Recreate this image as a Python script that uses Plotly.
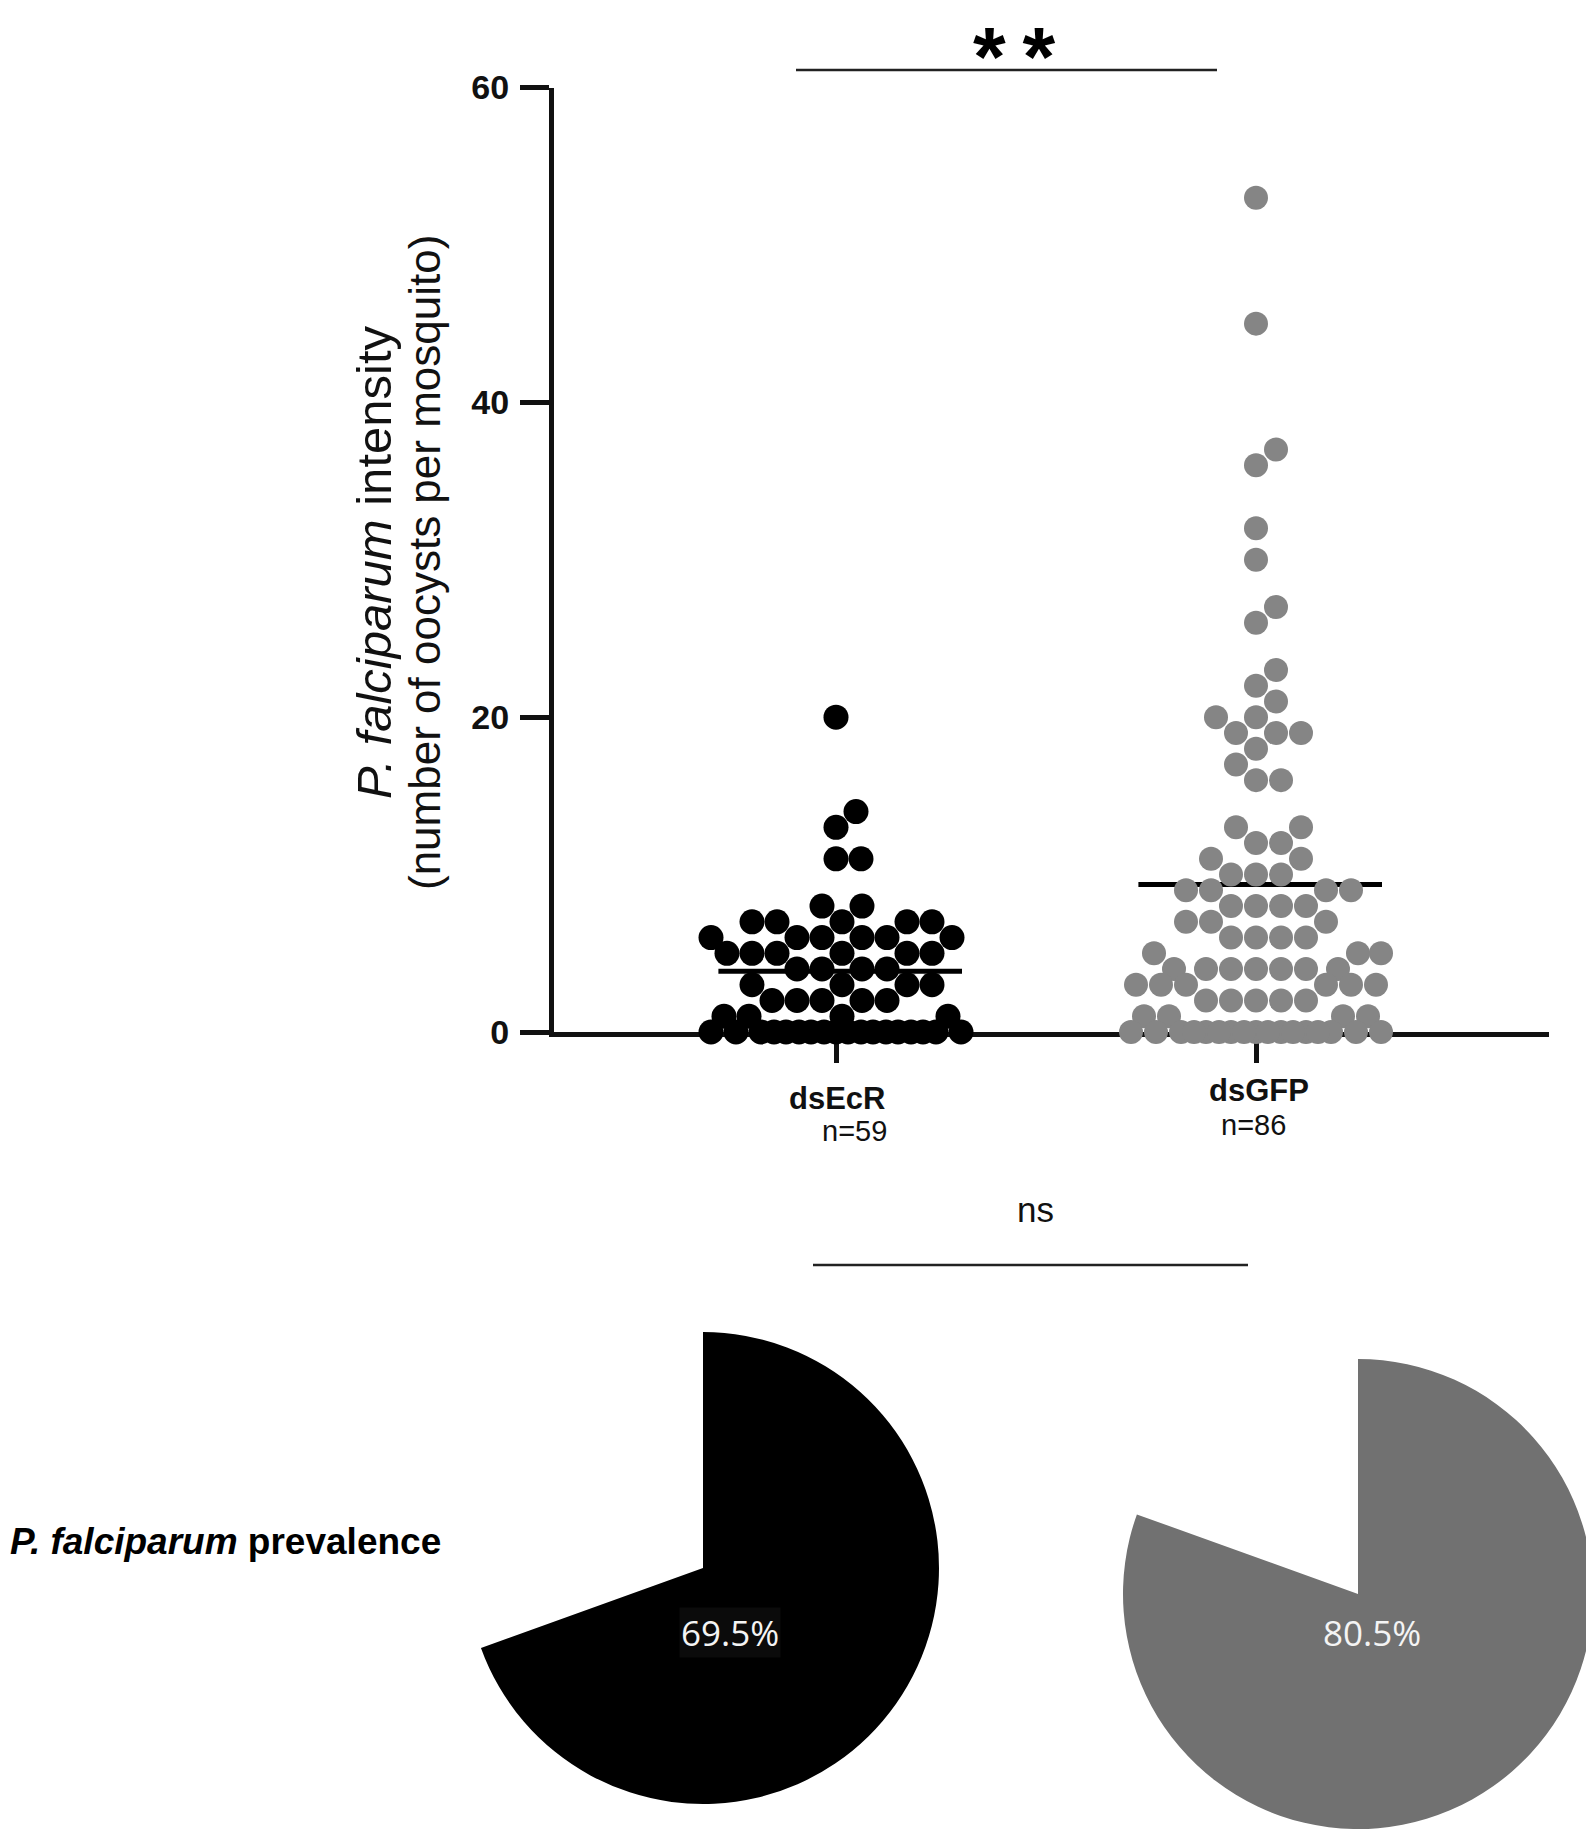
import plotly.graph_objects as go

# ---------------- data ----------------
categories = ["dsEcR", "dsGFP"]
n_labels = ["n=59", "n=86"]

dsEcR_values = [20, 14, 13, 11, 11, 8, 8,
                7, 7, 7, 7, 7,
                6, 6, 6, 6, 6, 6,
                5, 5, 5, 5, 5, 5,
                4, 4, 4, 4,
                3, 3, 3, 3,
                2, 2, 2, 2, 2,
                1, 1, 1, 1,
                0, 0, 0, 0, 0, 0, 0, 0, 0, 0, 0, 0, 0, 0, 0, 0, 0, 0]

dsGFP_values = [53, 45, 37, 36, 32, 30, 27, 26, 23, 22, 21,
                20, 20, 19, 19, 19, 18, 17, 16, 16,
                13, 13, 12, 12, 11, 11, 10, 10, 10,
                9, 9, 9, 9, 8, 8, 8, 8, 7, 7, 7,
                6, 6, 6, 6, 5, 5, 5,
                4, 4, 4, 4, 4, 4, 4,
                3, 3, 3, 3, 3, 3,
                2, 2, 2, 2, 2,
                1, 1, 1, 1,
                0, 0, 0, 0, 0, 0, 0, 0, 0, 0, 0, 0, 0, 0, 0, 0, 0]

prevalence = [69.5, 80.5]
y_ticks = [0, 20, 40, 60]
significance_top = "*\u2009*"
significance_bottom = "ns"

# ---------------- styles / layout geometry ----------------
OFF = 8                      # page body margin around the figure
W, H = 1594 - OFF, 1829 - OFF
PLOT_L, PLOT_R = 554, 1549   # page pixel positions of plot area
PLOT_T, PLOT_B = 87.5, 1032
Y_MAX = 60
CAT_PX = [836, 1256]
PX_PER_CAT = CAT_PX[1] - CAT_PX[0]
X_MIN = -(CAT_PX[0] - PLOT_L) / PX_PER_CAT
X_MAX = (PLOT_R - CAT_PX[0]) / PX_PER_CAT
PX_PER_Y = (PLOT_B - PLOT_T) / Y_MAX


def fx(px):
    return (px - OFF) / W


def fy(py):
    return 1 - (py - OFF) / H


dot_colors = ["#000000", "#858585"]
pie_colors = ["#000000", "#717171"]
FONT = "Liberation Sans, Arial, sans-serif"
DOT = 25


def swarm(vals, diam=DOT, half=125):
    """Deterministic beeswarm offsets (pixels) computed from the values."""
    cands = sorted(range(-half, half + 1), key=lambda c: (abs(c), -c))
    placed = []
    out = [0.0] * len(vals)
    order = sorted(range(len(vals)), key=lambda i: (vals[i], i))
    for i in order:
        y = vals[i] * PX_PER_Y
        near = [(px, py) for px, py in placed if abs(py - y) < diam]
        best = None
        for c in cands:
            if all((c - px) ** 2 + (y - py) ** 2 >= diam * diam for px, py in near):
                best = c
                break
        if best is None:
            best = max(cands, key=lambda c: min((c - px) ** 2 + (y - py) ** 2 for px, py in near))
        placed.append((best, y))
        out[i] = best
    return out


fig = go.Figure()

groups = [dsEcR_values, dsGFP_values]
# mean lines (under dots)
for ci, vals in enumerate(groups):
    m = sum(vals) / len(vals)
    fig.add_trace(go.Scatter(x=[ci - 0.28, ci + 0.30], y=[m, m], mode="lines",
                             line=dict(color="#000000", width=5),
                             hoverinfo="skip", showlegend=False,
                             xaxis="x", yaxis="y", cliponaxis=False))

for ci, vals in enumerate(groups):
    offs = swarm(vals)
    xs = [ci + o / PX_PER_CAT for o in offs]
    fig.add_trace(go.Scatter(x=xs, y=vals, mode="markers",
                             marker=dict(size=DOT - (0 if ci == 0 else 1), color=dot_colors[ci],
                                         line=dict(width=0)),
                             name=categories[ci], showlegend=False, cliponaxis=False,
                             xaxis="x", yaxis="y"))

# pies
pie_geom = [(703, 1568, 236), (1358, 1594, 235)]
for pi, p in enumerate(prevalence):
    cx, cy, r = pie_geom[pi]
    fig.add_trace(go.Pie(values=[p, 100 - p], sort=False, direction="clockwise", rotation=0,
                         marker=dict(colors=[pie_colors[pi], "rgba(0,0,0,0)"], line=dict(width=0)),
                         textinfo="none", hoverinfo="skip", showlegend=False,
                         domain=dict(x=[fx(cx - r), min(1, fx(cx + r))],
                                     y=[max(0, fy(cy + r)), fy(cy - r)])))

fig.update_layout(
    template="none",
    width=W, height=H,
    margin=dict(l=0, r=0, t=0, b=0, pad=0, autoexpand=False),
    paper_bgcolor="white", plot_bgcolor="white",
    showlegend=False,
    xaxis=dict(domain=[fx(PLOT_L), fx(PLOT_R)], range=[X_MIN, X_MAX],
               showline=True, linewidth=5, linecolor="#111111",
               ticks="outside", ticklen=26, tickwidth=5, tickcolor="#111111",
               tickvals=[0, 1], showticklabels=False, automargin=False,
               showgrid=False, zeroline=False, layer="below traces"),
    yaxis=dict(domain=[fy(PLOT_B), fy(PLOT_T)], range=[0, Y_MAX],
               showline=True, linewidth=5, linecolor="#111111",
               ticks="outside", ticklen=29, tickwidth=5, tickcolor="#111111",
               tickvals=y_ticks, ticktext=[str(t) for t in y_ticks],
               tickfont=dict(family=FONT, size=34, color="#111111", weight=700),
               ticklabelstandoff=4, automargin=False,
               showgrid=False, zeroline=False, layer="below traces"),
)


def ann(text, px, py, size, bold=False, color="#111111", family=FONT, angle=0,
        xanchor="center", yanchor="middle", bg=None):
    fig.add_annotation(text=text, x=fx(px), y=fy(py), xref="paper", yref="paper",
                       showarrow=False, textangle=angle, xanchor=xanchor, yanchor=yanchor,
                       bgcolor=bg,
                       font=dict(family=family, size=size, color=color,
                                 weight=700 if bold else 400))


# y-axis title (two lines)
ann("<i>P. falciparum</i> intensity", 374, 563, 49, angle=-90)
ann("(number of oocysts per mosquito)", 424, 563, 44, angle=-90)

# category labels
cat_label_pos = [(837, 1098), (1259, 1090)]
n_label_pos = [(855, 1131), (1253, 1125)]
for i, c in enumerate(categories):
    ann(c, *cat_label_pos[i], 31, bold=True)
    ann(n_labels[i], *n_label_pos[i], 29)

# significance
ann(significance_top, 1014, OFF, 84, bold=True, color="#000000", yanchor="top")
fig.add_shape(type="line", xref="paper", yref="paper",
              x0=fx(796), x1=fx(1217), y0=fy(70), y1=fy(70),
              line=dict(color="#222222", width=2.5))
ann(significance_bottom, 1035, 1209, 35)
fig.add_shape(type="line", xref="paper", yref="paper",
              x0=fx(813), x1=fx(1248), y0=fy(1265), y1=fy(1265),
              line=dict(color="#222222", width=2.5))

# prevalence label
ann("<i>P. falciparum</i> prevalence", OFF, 1541, 37, bold=True, xanchor="left", color="#000000")

# pie percentage labels
pie_label_pos = [(730, 1632), (1372, 1632)]
for pi, p in enumerate(prevalence):
    ann(f"{p}%", *pie_label_pos[pi], 35, color="#f4f4f4", family="Open Sans, Noto Sans, sans-serif",
        bg="#0b0b0b" if pi == 0 else None)

fig.write_html("out.html")
